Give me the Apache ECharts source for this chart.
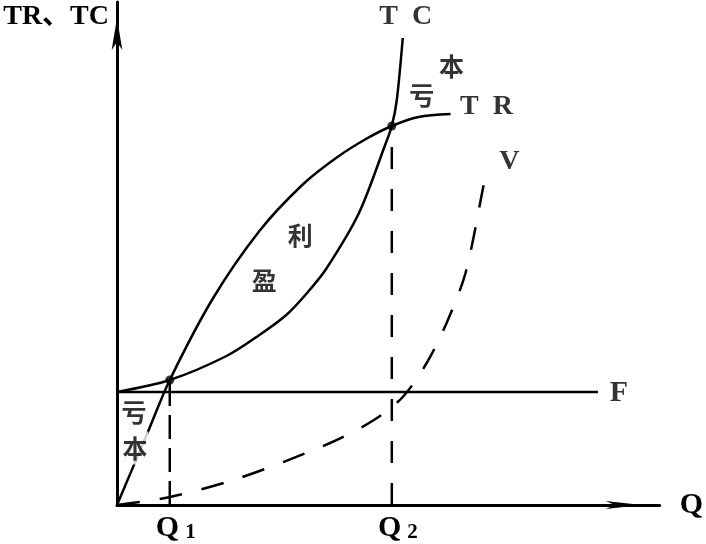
<!DOCTYPE html>
<html>
<head>
<meta charset="utf-8">
<script src="https://cdn.jsdelivr.net/npm/echarts@6/dist/echarts.min.js"></script>
<style>
html,body{margin:0;padding:0;background:#fff;}
#chart{width:706px;height:544px;}
</style>
</head>
<body>
<div id="chart"></div>
<script>
// Values (arbitrary units: output Q, amount TR/TC)
const trQ = [0, 31, 53, 96, 143, 186, 220, 250, 276, 303, 335];
const trV = [0, 73, 125, 206, 274, 320, 347, 366, 379, 388, 391];

const tcQ = [0, 53, 110, 143, 170, 190, 210, 243, 270, 276, 281, 287];
const tcV = [113, 125, 149, 170, 190, 211, 236, 292, 362, 379, 405, 467];

const vQ = [0, 53, 123, 214, 258, 287, 311, 331, 350, 368, 371];
const vV = [0, 8, 27, 62, 85, 108, 142, 182, 232, 319, 335];

const fQ = [0, 483];
const fV = [113, 113];

const breakQ = [53, 276];      // Q1, Q2
const breakV = [125, 379];     // TR = TC at Q1, Q2
const breakNames = ['1', '2'];

const labelText = ['T  C', '本', '亏', 'T  R', 'V', '利', '盈', 'F', '亏', '本'];
const labelQ = [290, 336, 306, 371, 394, 184, 148, 504, 17, 18];
const labelV = [488, 439, 410, 398, 343, 270, 225, 112, 93, 57];

const axisMaxQ = 545;
const axisMaxV = 503;

const zip = (a, b) => a.map((v, i) => [v, b[i]]);
const SERIF = '"Liberation Serif", "Times New Roman", serif';
const CJK = '"Noto Sans CJK SC", sans-serif';
const isCJK = s => /[\u3000-\u9fff]/.test(s);

const chart = echarts.init(document.getElementById('chart'), null, {renderer: 'canvas'});

const labelItems = labelText.map((t, i) => {
  const cjk = isCJK(t);
  return {
    value: [labelQ[i], labelV[i]],
    name: t,
    label: cjk ? {
      fontFamily: CJK, fontSize: 25, fontWeight: 'bold',
      backgroundColor: '#fff', padding: [4, 1]
    } : {
      fontFamily: SERIF, fontSize: t === 'F' ? 30 : 28, fontWeight: 'bold'
    }
  };
});

const solid = (w) => ({color: '#000', width: w, type: 'solid'});

chart.setOption({
  animation: false,
  backgroundColor: '#fff',
  grid: {left: 117, right: 44, top: 2, bottom: 39, containLabel: false},
  xAxis: {
    type: 'value', min: 0, max: axisMaxQ,
    name: 'Q', nameLocation: 'end', nameGap: 20,
    nameTextStyle: {fontFamily: SERIF, fontSize: 30, fontWeight: 'bold', color: '#000', verticalAlign: 'middle'},
    axisLine: {show: true, lineStyle: solid(3), symbol: ['none', 'arrow'], symbolSize: [6, 36], symbolOffset: [0, -18]},
    axisTick: {show: false},
    splitLine: {show: false},
    axisLabel: {
      show: true,
      customValues: breakQ,
      margin: 8,
      formatter: (val) => '{q|Q}{s|' + breakNames[breakQ.indexOf(val)] + '}',
      rich: {
        q: {fontFamily: SERIF, fontSize: 30, fontWeight: 'bold', color: '#000', padding: [0, 0, 0, 12], verticalAlign: 'bottom'},
        s: {fontFamily: SERIF, fontSize: 21, fontWeight: 'bold', color: '#000', padding: [0, 0, 0, 6], verticalAlign: 'bottom'}
      }
    }
  },
  yAxis: {
    type: 'value', min: 0, max: axisMaxV,
    name: 'TR、TC', nameLocation: 'end', nameGap: -15,
    nameTextStyle: {fontFamily: SERIF + ', ' + CJK, fontSize: 28, fontWeight: 'bold', color: '#000',
                    align: 'right', verticalAlign: 'middle', padding: [0, 8, 0, 0]},
    axisLine: {show: true, lineStyle: solid(3), symbol: ['none', 'arrow'], symbolSize: [8, 32], symbolOffset: [0, -16]},
    axisTick: {show: false},
    splitLine: {show: false},
    axisLabel: {show: false}
  },
  series: [
    {name: 'TR', type: 'line', data: zip(trQ, trV), smooth: 0.3, symbol: 'none', lineStyle: solid(2.5), z: 3},
    {name: 'TC', type: 'line', data: zip(tcQ, tcV), smooth: 0.3, symbol: 'none', lineStyle: solid(2.5), z: 3},
    {name: 'F', type: 'line', data: zip(fQ, fV), symbol: 'none', lineStyle: solid(2.5), z: 3},
    {name: 'V', type: 'line', data: zip(vQ, vV), smooth: 0.3, symbol: 'none',
     lineStyle: {color: '#000', width: 2.5, type: [23, 20]}, z: 3},
    {name: 'Q1', type: 'line', data: [[breakQ[0], 0], [breakQ[0], breakV[0]]], symbol: 'none',
     lineStyle: {color: '#000', width: 2.5, type: [24, 9]}, z: 3},
    {name: 'Q2', type: 'line', data: [[breakQ[1], 0], [breakQ[1], breakV[1]]], symbol: 'none',
     lineStyle: {color: '#000', width: 2.5, type: [22, 20]}, z: 3},
    {name: 'break', type: 'scatter', data: zip(breakQ, breakV), symbol: 'circle', symbolSize: 9,
     itemStyle: {color: '#000'}, z: 4},
    {name: 'labels', type: 'scatter', data: labelItems, symbolSize: 0, z: 10,
     label: {show: true, position: 'inside', formatter: '{b}', color: '#000'}}
  ]
});
</script>
</body>
</html>
